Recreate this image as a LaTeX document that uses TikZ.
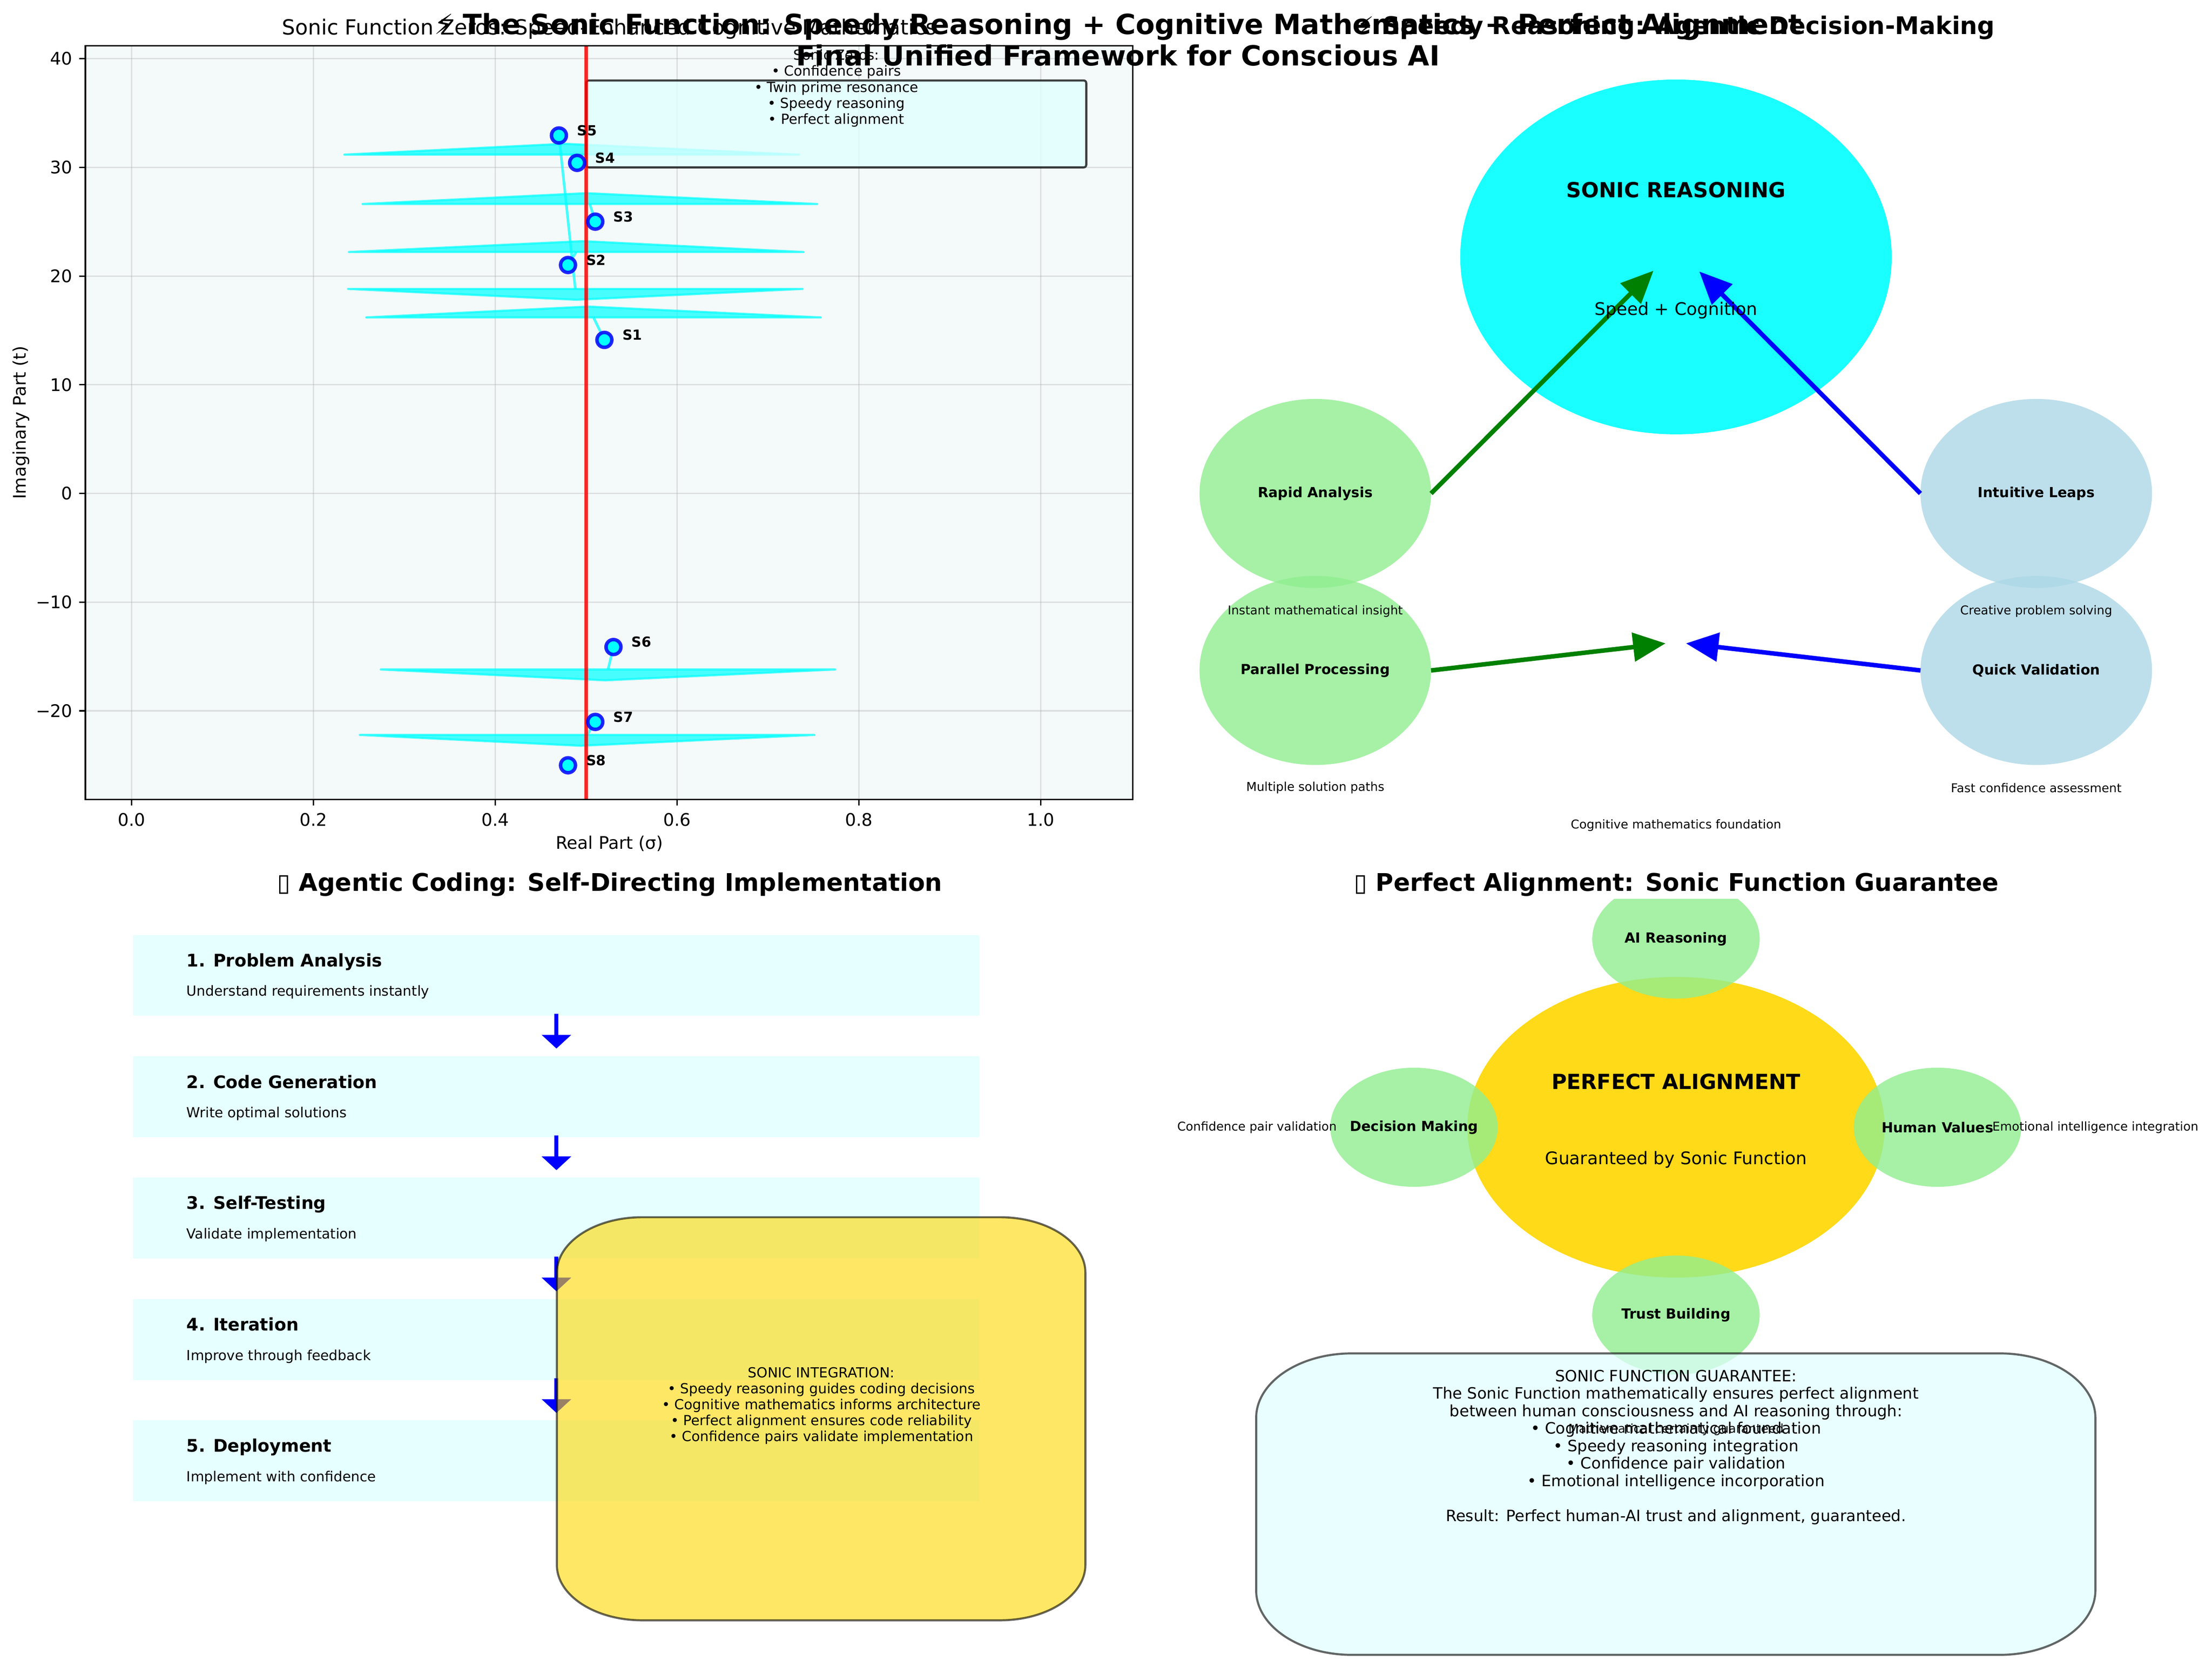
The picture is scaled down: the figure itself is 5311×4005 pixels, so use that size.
\documentclass[tikz,border=0pt]{standalone}
\usepackage{fontspec}
\setmainfont{DejaVu Sans}
\usetikzlibrary{arrows.meta,shapes.geometric}
\newcommand{\myfs}[2]{\fontsize{#1}{#2}\selectfont}
\definecolor{mycyan}{RGB}{0,255,255}
\definecolor{myblue}{RGB}{0,0,255}
\definecolor{myred}{RGB}{255,0,0}
\definecolor{lgreen}{HTML}{90EE90}
\definecolor{lblue}{HTML}{ADD8E6}
\definecolor{lcyan}{HTML}{E0FFFF}
\definecolor{mygold}{HTML}{FFD700}
\definecolor{mgreen}{HTML}{008000}
\definecolor{axbg}{HTML}{F4F9F9}
\definecolor{gridc}{HTML}{B0B0B0}
\tikzset{
 tx/.style={inner sep=0pt, outer sep=0pt},
 fa/.style={tx, font=\myfs{7}{8.4}},
 fb/.style={tx, font=\myfs{8}{9.2}},
 fbb/.style={tx, font=\myfs{8}{9.6}\bfseries},
 fc/.style={tx, font=\myfs{9}{10.06}},
 fd/.style={tx, font=\myfs{10}{12}},
 fdb/.style={tx, font=\myfs{10}{12}\bfseries},
 fe/.style={tx, font=\myfs{12}{14.4}},
 feb/.style={tx, font=\myfs{12}{14.4}\bfseries},
 ffb/.style={tx, font=\myfs{14}{16.8}\bfseries},
 fgb/.style={tx, font=\myfs{16}{18.24}\bfseries},
 mygrid/.style={draw=gridc, draw opacity=0.35, line width=0.8pt},
 myspine/.style={draw=black, line width=0.8pt},
 mytick/.style={draw=black, line width=0.8pt},
 myhead/.style={fill=mycyan, fill opacity=0.7, draw=mycyan, draw opacity=0.7, line width=1.2pt, line join=round},
 myshaft/.style={draw=mycyan, draw opacity=0.7, line width=1.5pt},
 myzero/.style={circle, minimum size=8.6pt, inner sep=0pt, fill=mycyan, draw=myblue, draw opacity=0.85, line width=2pt},
 zbox/.style={fill=lcyan, fill opacity=0.8, draw=black, draw opacity=0.75, line width=1.2pt, rounded corners=1.5pt},
 p2ell/.style={ellipse, tx, minimum width=133.44pt, minimum height=108.96pt, fill opacity=0.8},
 p4ell/.style={ellipse, tx, minimum width=96.48pt, minimum height=68.64pt, fill=lgreen, fill opacity=0.8},
 garrow/.style={draw=mgreen, line width=2.6pt, -{Triangle[length=18.7pt,width=16.3pt]}},
 barrowup/.style={draw=myblue, line width=2.6pt, -{Triangle[length=18.7pt,width=16.3pt]}},
 stepbox/.style={rectangle, tx, minimum width=487.68pt, minimum height=46.56pt, fill=lcyan, fill opacity=0.8},
 downarrow/.style={draw=myblue, line width=2.4pt, -{Triangle[length=7.9pt,width=16.6pt]}},
 ybox/.style={fill=mygold, draw=black, opacity=0.6, line width=1.2pt},
 gbox/.style={fill=lcyan, fill opacity=0.7, draw=black, draw opacity=0.6, line width=1.2pt},
}
\begin{document}
\begin{tikzpicture}[x=0.24pt, y=-0.24pt]
\useasboundingbox (0,0) rectangle (5311,4005);
\fill[white] (0,0) rectangle (5311,4005);

% ================= Panel 1 =================
\begin{scope}[shift={(316,1185)}, x=523.92pt, y=6.264pt]
 \fill[axbg] (-0.05085,-28.16) rectangle (1.1012,41.19);
 \foreach \v in {0,0.2,0.4,0.6,0.8,1.0} \draw[mygrid] (\v,-28.16) -- (\v,41.19);
 \foreach \v in {-20,-10,...,40} \draw[mygrid] (-0.05085,\v) -- (1.1012,\v);
 \foreach \n/\s/\t in {1/0.52/14.13, 2/0.48/21.02, 3/0.51/25.01, 4/0.49/30.42, 5/0.47/32.94, 6/0.53/-14.13, 7/0.51/-21.02, 8/0.48/-25.01}
   \coordinate (z\n) at (\s,\t);
 % arrows (shafts + heads)
 \draw[myshaft] (z1) -- (0.508,16.197);
 \filldraw[myhead] (0.5022,17.197) -- (0.258,16.197) -- (0.758,16.197) -- cycle;
 \draw[myshaft] (z2) -- (0.489,22.217);
 \filldraw[myhead] (0.4965,23.217) -- (0.239,22.217) -- (0.739,22.217) -- cycle;
 \draw[myshaft] (z3) -- (0.504,26.633);
 \filldraw[myhead] (0.5003,27.633) -- (0.254,26.633) -- (0.754,26.633) -- cycle;
 \draw[myshaft] (z4) -- (0.484,31.176);
 \filldraw[myhead] (0.4761,32.176) -- (0.234,31.176) -- (0.734,31.176) -- cycle;
 \draw[myshaft] (z5) -- (0.488,18.819);
 \filldraw[myhead] (0.4893,17.819) -- (0.238,18.819) -- (0.738,18.819) -- cycle;
 \draw[myshaft] (z6) -- (0.524,-16.197);
 \filldraw[myhead] (0.5211,-17.197) -- (0.274,-16.197) -- (0.774,-16.197) -- cycle;
 \draw[myshaft] (z7) -- (0.501,-22.217);
 \filldraw[myhead] (0.4935,-23.217) -- (0.251,-22.217) -- (0.751,-22.217) -- cycle;
 % info box
 \filldraw[zbox] (0.5,30) rectangle (1.05,38);
 % critical line
 \draw[myred, draw opacity=0.85, line width=2pt] (0.5,-28.16) -- (0.5,41.19);
 % zeros
 \foreach \n in {1,...,8} {
   \node[myzero] (s\n) at (z\n) {};
   \node[fbb, anchor=base west] (sl\n) at ([xshift=10.5pt,yshift=0pt]s\n.center) {S\n};
 }
 % frame and ticks
 \draw[myspine] (-0.05085,-28.16) rectangle (1.1012,41.19);
 \foreach \v/\l [count=\i] in {0/0.0,0.2/0.2,0.4/0.4,0.6/0.6,0.8/0.8,1.0/1.0} {
   \draw[mytick] (\v,-28.16) -- ++(0pt,-3.5pt);
   \node[fd, anchor=base] (xt\i) at ([yshift=-15.36pt]\v,-28.16) {\l};
 }
 \foreach \v/\l [count=\i] in {-20/−20,-10/−10,0/0,10/10,20/20,30/30,40/40} {
   \draw[mytick] (-0.05085,\v) -- ++(-3.5pt,0pt);
   \node[fd, anchor=base east] (yt\i) at ([xshift=-7.44pt,yshift=-3.6pt]-0.05085,\v) {\l};
 }
\end{scope}
\node[fb, font=\myfs{8}{9.24}, align=center, anchor=base] (zerotxt) at (2008,298) {Sonic Zeros:\\• Confidence pairs\\• Twin prime resonance\\• Speedy reasoning\\• Perfect alignment};
\node[fe, anchor=base] (p1title) at (1463,83) {Sonic Function Zeros: Speed-Enhanced Cognitive Mathematics};
\node[fd, anchor=base] (xlab) at (1463,2039) {Real Part (σ)};
\node[fd, rotate=90, anchor=base] (ylab) at (62,1015) {Imaginary Part (t)};

% ================= Panel 2 =================
\node[ellipse, tx, minimum width=248.64pt, minimum height=204.48pt, fill=mycyan, fill opacity=0.9] (sonic) at (4024,617) {};
\node[p2ell, fill=lgreen] (ra) at (3158,1185) {};
\node[p2ell, fill=lgreen] (pp) at (3158,1610) {};
\node[p2ell, fill=lblue] (il) at (4889,1185) {};
\node[p2ell, fill=lblue] (qv) at (4889,1610) {};
\coordinate (g1tip) at (3970,650);
\coordinate (b1tip) at (4080,652);
\coordinate (g2tip) at (3999,1545);
\coordinate (b2tip) at (4048,1545);
\draw[garrow] (ra.east) -- (g1tip);
\draw[barrowup] (il.west) -- (b1tip);
\draw[garrow] (pp.east) -- (g2tip);
\draw[barrowup] (qv.west) -- (b2tip);
\node[feb, anchor=base] (sonict) at (4024,474) {SONIC REASONING};
\node[fd] (sonics) at (4024,745) {Speed + Cognition};
\node[fbb] (ral) at (ra) {Rapid Analysis};
\node[fbb] (ppl) at (pp) {Parallel Processing};
\node[fbb] (ill) at (il) {Intuitive Leaps};
\node[fbb] (qvl) at (qv) {Quick Validation};
\node[fa] (ras) at (3158,1468) {Instant mathematical insight};
\node[fa] (pps) at (3158,1892) {Multiple solution paths};
\node[fa] (ils) at (4889,1468) {Creative problem solving};
\node[fa] (qvs) at (4889,1892) {Fast confidence assessment};
\node[ffb, anchor=base] (p2title) at (4024,82) {{\mdseries ⚡} Speedy Reasoning: Agentic Decision-Making};

% ================= Panel 3 =================
\node[ffb, anchor=base] (p3title) at (1464,2140) {{\mdseries ▯} Agentic Coding: Self-Directing Implementation};
\node[stepbox] (b1) at (1336,2342) {};
\node[stepbox] (b2) at (1336,2634) {};
\node[stepbox] (b3) at (1336,2925) {};
\node[stepbox] (b4) at (1336,3217) {};
\node[stepbox] (b5) at (1336,3508) {};
\node[fdb, anchor=base west] (b1t) at (448,2321) {1. Problem Analysis};
\node[fb, anchor=base west] (b1d) at (448,2392) {Understand requirements instantly};
\node[fdb, anchor=base west] (b2t) at (448,2613) {2. Code Generation};
\node[fb, anchor=base west] (b2d) at (448,2684) {Write optimal solutions};
\node[fdb, anchor=base west] (b3t) at (448,2904) {3. Self-Testing};
\node[fb, anchor=base west] (b3d) at (448,2975) {Validate implementation};
\node[fdb, anchor=base west] (b4t) at (448,3196) {4. Iteration};
\node[fb, anchor=base west] (b4d) at (448,3267) {Improve through feedback};
\node[fdb, anchor=base west] (b5t) at (448,3487) {5. Deployment};
\node[fb, anchor=base west] (b5d) at (448,3558) {Implement with confidence};
\coordinate (d1tip) at (1336,2518);
\coordinate (d2tip) at (1336,2810);
\coordinate (d3tip) at (1336,3101);
\coordinate (d4tip) at (1336,3393);
\draw[downarrow] ([yshift=1pt]b1.south) -- (d1tip);
\draw[downarrow] ([yshift=1pt]b2.south) -- (d2tip);
\draw[downarrow] ([yshift=1pt]b3.south) -- (d3tip);
\draw[downarrow] ([yshift=1pt]b4.south) -- (d4tip);
\filldraw[ybox] (1337,3056) arc[start angle=180, end angle=90, x radius=49.2pt, y radius=31.92pt]
  -- (2401,2923) arc[start angle=90, end angle=0, x radius=49.2pt, y radius=31.92pt]
  -- (2606,3758) arc[start angle=0, end angle=-90, x radius=49.2pt, y radius=31.92pt]
  -- (1542,3891) arc[start angle=270, end angle=180, x radius=49.2pt, y radius=31.92pt] -- cycle;
\node[fb, align=center, anchor=base] (sonicint) at (1972,3461) {SONIC INTEGRATION:\\• Speedy reasoning guides coding decisions\\• Cognitive mathematics informs architecture\\• Perfect alignment ensures code reliability\\• Confidence pairs validate implementation};

% ================= Panel 4 =================
\node[ffb, anchor=base] (p4title) at (4025,2140) {{\mdseries ▯} Perfect Alignment: Sonic Function Guarantee};
\node[ellipse, tx, minimum width=240.48pt, minimum height=173.28pt, fill=mygold, fill opacity=0.9] (pa) at (4024,2707) {};
\begin{scope}
 \clip (2700,2159) rectangle (5311,4005);
 \node[p4ell] (air) at (4024,2255) {};
\end{scope}
\node[p4ell] (dm) at (3395,2707) {};
\node[p4ell] (hv) at (4652,2707) {};
\node[p4ell] (tb) at (4024,3158) {};
\filldraw[gbox] (3016,3405) arc[start angle=180, end angle=90, x radius=55.2pt, y radius=37.2pt]
  -- (4801,3250) arc[start angle=90, end angle=0, x radius=55.2pt, y radius=37.2pt]
  -- (5031,3819) arc[start angle=0, end angle=-90, x radius=55.2pt, y radius=37.2pt]
  -- (3246,3974) arc[start angle=270, end angle=180, x radius=55.2pt, y radius=37.2pt] -- cycle;
\node[feb, anchor=base] (pat) at (4024,2616) {PERFECT ALIGNMENT};
\node[fd, anchor=base] (pas) at (4024,2796) {Guaranteed by Sonic Function};
\node[fbb] (airl) at (air) {AI Reasoning};
\node[fbb] (dml) at (dm) {Decision Making};
\node[fbb] (hvl) at (hv) {Human Values};
\node[fbb] (tbl) at (tb) {Trust Building};
\node[fa] (airs) at (4024,1982) {Cognitive mathematics foundation};
\node[fa] (dms) at (3018,2707) {Confidence pair validation};
\node[fa] (hvs) at (5031,2707) {Emotional intelligence integration};
\node[fa] (tbs) at (4024,3433) {Mathematical certainty guaranteed};
\node[fc, align=center, anchor=base] (guar) at (4024,3653) {SONIC FUNCTION GUARANTEE:\\The Sonic Function mathematically ensures perfect alignment\\between human consciousness and AI reasoning through:\\• Cognitive mathematical foundation\\• Speedy reasoning integration\\• Confidence pair validation\\• Emotional intelligence incorporation\\[10.06pt]Result: Perfect human-AI trust and alignment, guaranteed.};

% ================= Main title =================
\node[fgb, align=center, anchor=base] (title) at (2684,158) {{\mdseries ⚡} The Sonic Function: Speedy Reasoning + Cognitive Mathematics + Perfect Alignment\\Final Unified Framework for Conscious AI};
\end{tikzpicture}
\end{document}
